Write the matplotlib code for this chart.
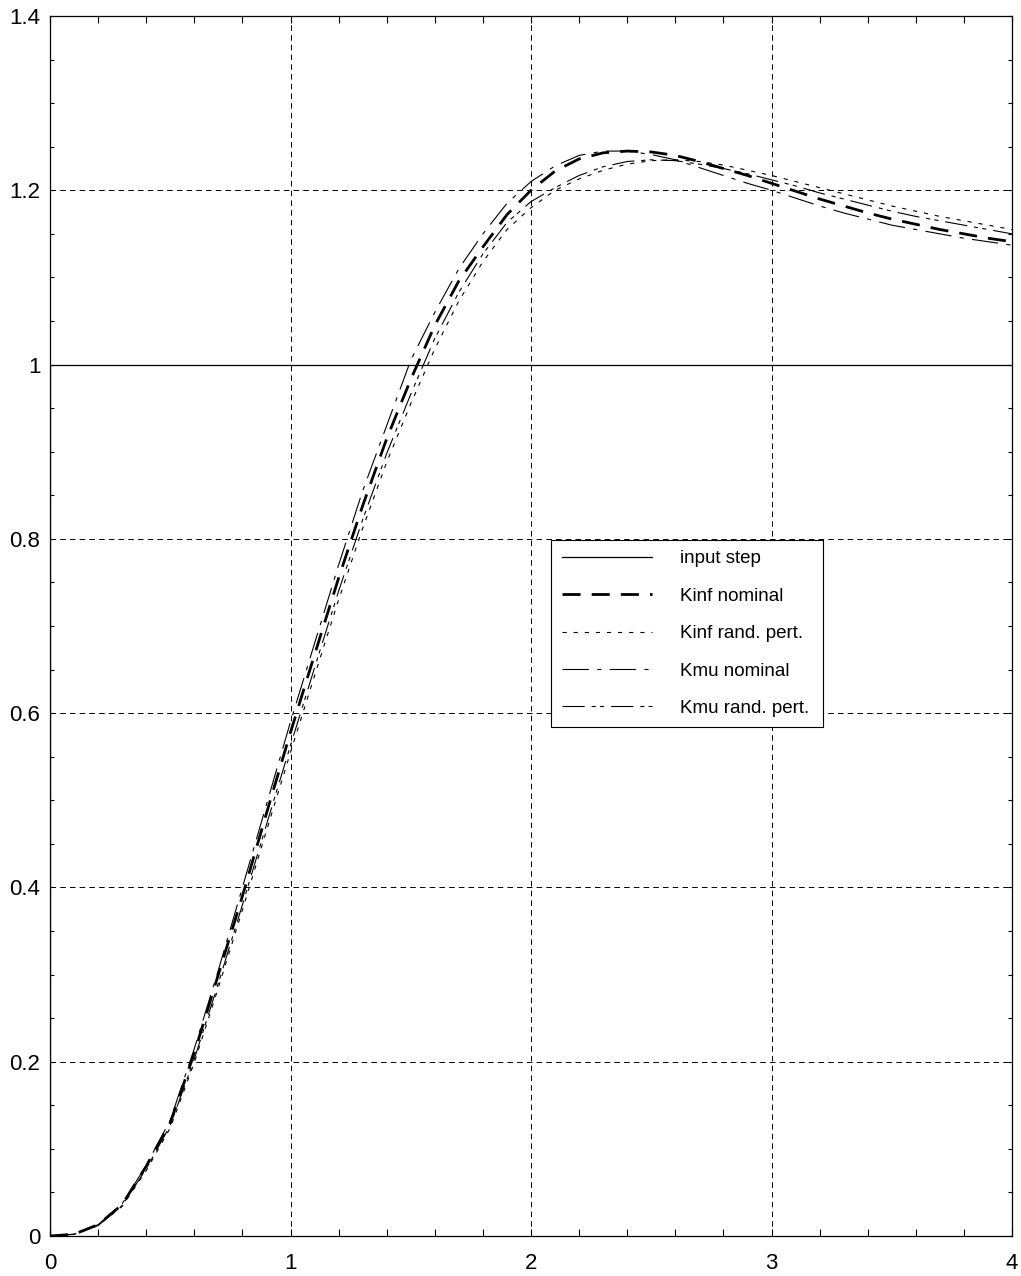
import numpy as np
import matplotlib
matplotlib.use('Agg')
import matplotlib.pyplot as plt
from matplotlib.ticker import MultipleLocator
from matplotlib.offsetbox import DrawingArea

# Respuestas al escalon (muestreo cada 0.1 s)
t = np.linspace(0, 4, 41)

kinf_nominal = [0.0, 0.002, 0.013, 0.036, 0.080, 0.130, 0.210, 0.300, 0.390, 0.485,
                0.578, 0.667, 0.755, 0.838, 0.915, 0.983, 1.045, 1.096, 1.135, 1.172,
                1.200, 1.222, 1.236, 1.243, 1.245, 1.244, 1.240, 1.233, 1.225, 1.217,
                1.208, 1.199, 1.190, 1.182, 1.174, 1.167, 1.161, 1.155, 1.150, 1.145,
                1.141]

kinf_rand = [0.0, 0.002, 0.012, 0.034, 0.075, 0.124, 0.199, 0.285, 0.374, 0.465,
             0.555, 0.643, 0.730, 0.812, 0.888, 0.955, 1.018, 1.073, 1.118, 1.155,
             1.180, 1.200, 1.213, 1.223, 1.230, 1.234, 1.235, 1.233, 1.229, 1.223,
             1.217, 1.210, 1.203, 1.196, 1.189, 1.182, 1.176, 1.170, 1.165, 1.160,
             1.155]

kmu_nominal = [0.0, 0.002, 0.013, 0.037, 0.081, 0.133, 0.215, 0.305, 0.400, 0.495,
               0.590, 0.680, 0.770, 0.855, 0.930, 1.005, 1.060, 1.110, 1.150, 1.185,
               1.210, 1.228, 1.240, 1.245, 1.245, 1.241, 1.235, 1.226, 1.217, 1.208,
               1.200, 1.191, 1.182, 1.174, 1.167, 1.160, 1.155, 1.150, 1.145, 1.141,
               1.137]

kmu_rand = [0.0, 0.002, 0.012, 0.035, 0.077, 0.127, 0.203, 0.290, 0.380, 0.472,
            0.563, 0.652, 0.740, 0.822, 0.898, 0.966, 1.030, 1.083, 1.127, 1.163,
            1.187, 1.203, 1.217, 1.227, 1.233, 1.235, 1.234, 1.230, 1.225, 1.219,
            1.212, 1.205, 1.197, 1.190, 1.183, 1.176, 1.170, 1.165, 1.160, 1.155,
            1.150]

step_t = [0, 0, 4]
step_y = [0, 1, 1]

plt.rcParams['font.family'] = ['Liberation Sans', 'DejaVu Sans']
plt.rcParams['lines.scale_dashes'] = False

fig = plt.figure(figsize=(10.21, 12.76), dpi=100)
ax = fig.add_axes([50 / 1021, 40 / 1276, 962 / 1021, 1220 / 1276])

ax.plot(step_t, step_y, color='black', lw=0.9, label='input step')
ax.plot(t, kinf_nominal, color='black', lw=2.0, dashes=(13, 8), label='Kinf nominal')
ax.plot(t, kinf_rand, color='black', lw=0.8, dashes=(3, 5), label='Kinf rand. pert.')
ax.plot(t, kmu_nominal, color='black', lw=0.8, dashes=(19, 6, 3, 6), label='Kmu nominal')
ax.plot(t, kmu_rand, color='black', lw=0.8, dashes=(16, 5, 3, 3, 3, 5), label='Kmu rand. pert.')

ax.set_xlim(0, 4)
ax.set_ylim(0, 1.4)
ax.xaxis.set_major_locator(MultipleLocator(1))
ax.xaxis.set_minor_locator(MultipleLocator(0.2))
ax.yaxis.set_major_locator(MultipleLocator(0.2))
ax.yaxis.set_minor_locator(MultipleLocator(0.05))
ax.xaxis.set_major_formatter(plt.FuncFormatter(lambda v, p: '%g' % v))
ax.yaxis.set_major_formatter(plt.FuncFormatter(lambda v, p: '%g' % round(v, 2)))

ax.tick_params(which='both', direction='in', top=True, right=True, labelsize=16, width=0.8)
ax.tick_params(axis='x', which='both', length=5, pad=12)
ax.tick_params(axis='y', which='both', length=3, pad=7)

ax.grid(True, which='major', color='black', lw=0.7, dashes=(4, 3))
ax.set_axisbelow(True)
for s in ax.spines.values():
    s.set_linewidth(0.9)

leg = ax.legend(loc='upper left', bbox_to_anchor=(0.521, 0.5705), fontsize=13.5,
                handlelength=4.8, handletextpad=1.5, labelspacing=1.08,
                borderpad=0.55, borderaxespad=0, fancybox=False, framealpha=1,
                edgecolor='black')
leg.get_frame().set_linewidth(0.8)
# margen extra a la derecha del texto, como en el original
leg._legend_handle_box.sep = 0
leg._legend_handle_box.get_children().append(DrawingArea(3, 0))

plt.savefig('out.png', dpi=100)
